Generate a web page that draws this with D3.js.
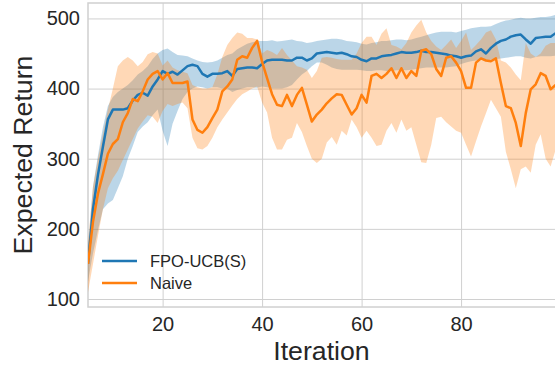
<!DOCTYPE html>
<html>
<head>
<meta charset="utf-8">
<script src="https://cdn.jsdelivr.net/npm/d3@7"></script>
<style>
  body { margin: 0; background: #fff; }
  svg { display: block; font-family: "Liberation Sans", Arial, sans-serif; }
</style>
</head>
<body>
<div id="chart"></div>
<script>
// iterations 5..99
const iterations = d3.range(5, 100);

const fpoMean = [150, 228, 277, 317, 356, 370, 370, 370, 372, 383, 391, 394, 390, 403, 413, 425, 421, 424, 420, 426,
  432, 434, 432, 421, 417, 421, 421, 422, 425, 418, 428, 429, 430, 430, 429, 435, 440, 441, 441, 441,
  440, 440, 444, 444, 440, 443, 450, 451, 452, 451, 450, 451, 449, 446, 445, 441, 439, 443, 443, 446,
  447, 448, 450, 452, 451, 451, 452, 454, 452, 452, 451, 450, 449, 447, 446, 444, 446, 447, 453, 456,
  450, 458, 464, 468, 470, 474, 476, 477, 470, 464, 472, 473, 474, 474, 479];
const fpoUpper = [175, 260, 305, 345, 375, 388, 395, 400, 405, 412, 420, 425, 432, 442, 450, 455, 457, 452, 448, 447,
  446, 443, 440, 438, 437, 438, 440, 444, 448, 450, 456, 460, 464, 466, 468, 468, 468, 469, 467, 468,
  469, 470, 468, 467, 465, 466, 468, 469, 470, 471, 471, 470, 468, 467, 466, 464, 463, 465, 466, 468,
  468, 469, 470, 470, 469, 470, 472, 474, 476, 478, 480, 481, 481, 481, 480, 482, 484, 486, 487, 488,
  488, 489, 492, 495, 497, 498, 500, 501, 500, 500, 501, 502, 502, 503, 505];
const fpoLower = [125, 165, 198, 228, 236, 241, 258, 275, 300, 318, 338, 346, 352, 362, 370, 340, 318, 350, 368, 385,
  395, 400, 403, 402, 400, 402, 402, 400, 400, 395, 398, 400, 402, 402, 401, 403, 402, 400, 400, 400,
  402, 405, 413, 420, 425, 432, 437, 437, 434, 430, 428, 427, 427, 427, 427, 426, 425, 425, 426, 426,
  425, 425, 426, 426, 426, 427, 428, 429, 430, 430, 430, 430, 430, 431, 432, 435, 437, 439, 440, 441,
  440, 441, 442, 443, 444, 445, 446, 446, 444, 443, 445, 446, 446, 446, 447];

const naiveMean = [150, 210, 250, 278, 307, 321, 328, 352, 365, 385, 382, 396, 413, 421, 425, 413, 422, 408, 408, 408,
  410, 356, 341, 337, 345, 358, 370, 396, 403, 413, 441, 446, 444, 458, 468, 438, 415, 392, 377, 375,
  391, 375, 391, 401, 377, 353, 363, 370, 379, 386, 392, 391, 377, 363, 372, 391, 380, 418, 421, 415,
  421, 429, 415, 429, 415, 425, 418, 454, 456, 449, 428, 418, 444, 446, 437, 425, 401, 401, 437, 443,
  440, 439, 443, 408, 375, 372, 351, 318, 365, 399, 406, 422, 418, 399, 405];
const naiveUpper = [180, 260, 300, 335, 370, 400, 432, 440, 445, 440, 432, 438, 449, 452, 450, 433, 440, 430, 426, 424,
  422, 405, 402, 400, 400, 402, 420, 445, 462, 472, 480, 478, 472, 472, 470, 450, 455, 452, 448, 458,
  448, 440, 432, 430, 427, 415, 425, 444, 445, 444, 442, 441, 441, 441, 450, 465, 474, 474, 462, 478,
  486, 462, 460, 456, 465, 480, 490, 498, 480, 468, 460, 455, 462, 470, 458, 468, 480, 455, 462, 470,
  480, 483, 470, 440, 437, 430, 420, 412, 465, 450, 445, 450, 461, 465, 465];
const naiveLower = [110, 150, 190, 228, 258, 272, 283, 298, 313, 328, 343, 353, 362, 360, 351, 368, 378, 375, 378, 380,
  372, 330, 315, 313, 318, 330, 345, 356, 366, 376, 385, 392, 396, 400, 403, 380, 366, 330, 313, 313,
  327, 330, 351, 338, 318, 300, 294, 300, 323, 331, 320, 340, 333, 356, 345, 330, 340, 330, 318, 320,
  340, 351, 337, 356, 340, 345, 320, 295, 294, 320, 358, 360, 352, 346, 340, 337, 320, 303, 325, 346,
  365, 384, 372, 360, 310, 285, 258, 285, 289, 280, 320, 335, 300, 289, 313];

const xTicks = [20, 40, 60, 80];
const yTicks = [100, 200, 300, 400, 500];

const seriesNames = ["FPO-UCB(S)", "Naive"];
const colors = ["#1f77b4", "#ff7f0e"];

const width = 555, height = 366;
const margin = { top: 3, right: 0, bottom: 59, left: 88 };

const svg = d3.select("#chart").append("svg")
  .attr("width", width)
  .attr("height", height);

const x = d3.scaleLinear().domain([5, 99]).range([margin.left, 555.6]);
const y = d3.scaleLinear().domain([88.6, 522]).range([height - margin.bottom, margin.top]);

const plotW = 560 - margin.left;
const plotH = height - margin.bottom - margin.top;

svg.append("clipPath").attr("id", "clip")
  .append("rect")
  .attr("x", margin.left).attr("y", margin.top)
  .attr("width", plotW).attr("height", plotH);

// grid
const gridColor = "#d0d0d0";
svg.append("g")
  .attr("transform", `translate(0, ${margin.top})`)
  .call(d3.axisBottom(x).tickValues(xTicks).tickSize(plotH).tickFormat(""))
  .call(g => g.select(".domain").remove())
  .call(g => g.selectAll("line").attr("stroke", gridColor).attr("stroke-width", 1));

svg.append("g")
  .attr("transform", `translate(${margin.left}, 0)`)
  .call(d3.axisRight(y).tickValues(yTicks).tickSize(plotW).tickFormat(""))
  .call(g => g.select(".domain").remove())
  .call(g => g.selectAll("line").attr("stroke", gridColor).attr("stroke-width", 1));

// frame
svg.append("rect")
  .attr("x", margin.left).attr("y", margin.top)
  .attr("width", plotW).attr("height", plotH)
  .attr("fill", "none")
  .attr("stroke", gridColor)
  .attr("stroke-width", 1.5);

const series = [
  { mean: fpoMean, lo: fpoLower, hi: fpoUpper },
  { mean: naiveMean, lo: naiveLower, hi: naiveUpper }
];

const plot = svg.append("g").attr("clip-path", "url(#clip)");

const area = d3.area()
  .x((d, i) => x(iterations[i]))
  .y0(d => y(d[0]))
  .y1(d => y(d[1]));

const line = d3.line()
  .x((d, i) => x(iterations[i]))
  .y(d => y(d));

series.forEach((s, k) => {
  plot.append("path")
    .datum(s.lo.map((v, i) => [v, s.hi[i]]))
    .attr("fill", colors[k])
    .attr("fill-opacity", 0.3)
    .attr("d", area);
});

series.forEach((s, k) => {
  plot.append("path")
    .datum(s.mean)
    .attr("fill", "none")
    .attr("stroke", colors[k])
    .attr("stroke-width", 2.5)
    .attr("stroke-linejoin", "round")
    .attr("d", line);
});

// tick labels
const textColor = "#262626";
svg.append("g")
  .attr("transform", `translate(0, ${height - margin.bottom})`)
  .call(d3.axisBottom(x).tickValues(xTicks).tickSize(0).tickPadding(10))
  .call(g => g.select(".domain").remove())
  .call(g => g.selectAll("text")
    .attr("font-size", 20)
    .attr("font-family", "Liberation Sans, Arial, sans-serif")
    .attr("fill", textColor));

svg.append("g")
  .attr("transform", `translate(${margin.left}, 0)`)
  .call(d3.axisLeft(y).tickValues(yTicks).tickSize(0).tickPadding(8))
  .call(g => g.select(".domain").remove())
  .call(g => g.selectAll("text")
    .attr("font-size", 20)
    .attr("font-family", "Liberation Sans, Arial, sans-serif")
    .attr("fill", textColor));

// axis labels
svg.append("text")
  .attr("x", (margin.left + 555) / 2)
  .attr("y", 360)
  .attr("text-anchor", "middle")
  .attr("font-size", 26.7)
  .attr("fill", textColor)
  .text("Iteration");

svg.append("text")
  .attr("transform", `translate(32, ${(margin.top + height - margin.bottom) / 2}) rotate(-90)`)
  .attr("text-anchor", "middle")
  .attr("font-size", 26.7)
  .attr("fill", textColor)
  .text("Expected Return");

// legend
const legend = svg.append("g");
seriesNames.forEach((name, k) => {
  const ly = 261 + k * 22;
  legend.append("line")
    .attr("x1", 102).attr("x2", 137)
    .attr("y1", ly).attr("y2", ly)
    .attr("stroke", colors[k])
    .attr("stroke-width", 2.5);
  legend.append("text")
    .attr("x", 150).attr("y", ly)
    .attr("dy", "0.35em")
    .attr("font-size", 16.5)
    .attr("fill", textColor)
    .text(name);
});
</script>
</body>
</html>
